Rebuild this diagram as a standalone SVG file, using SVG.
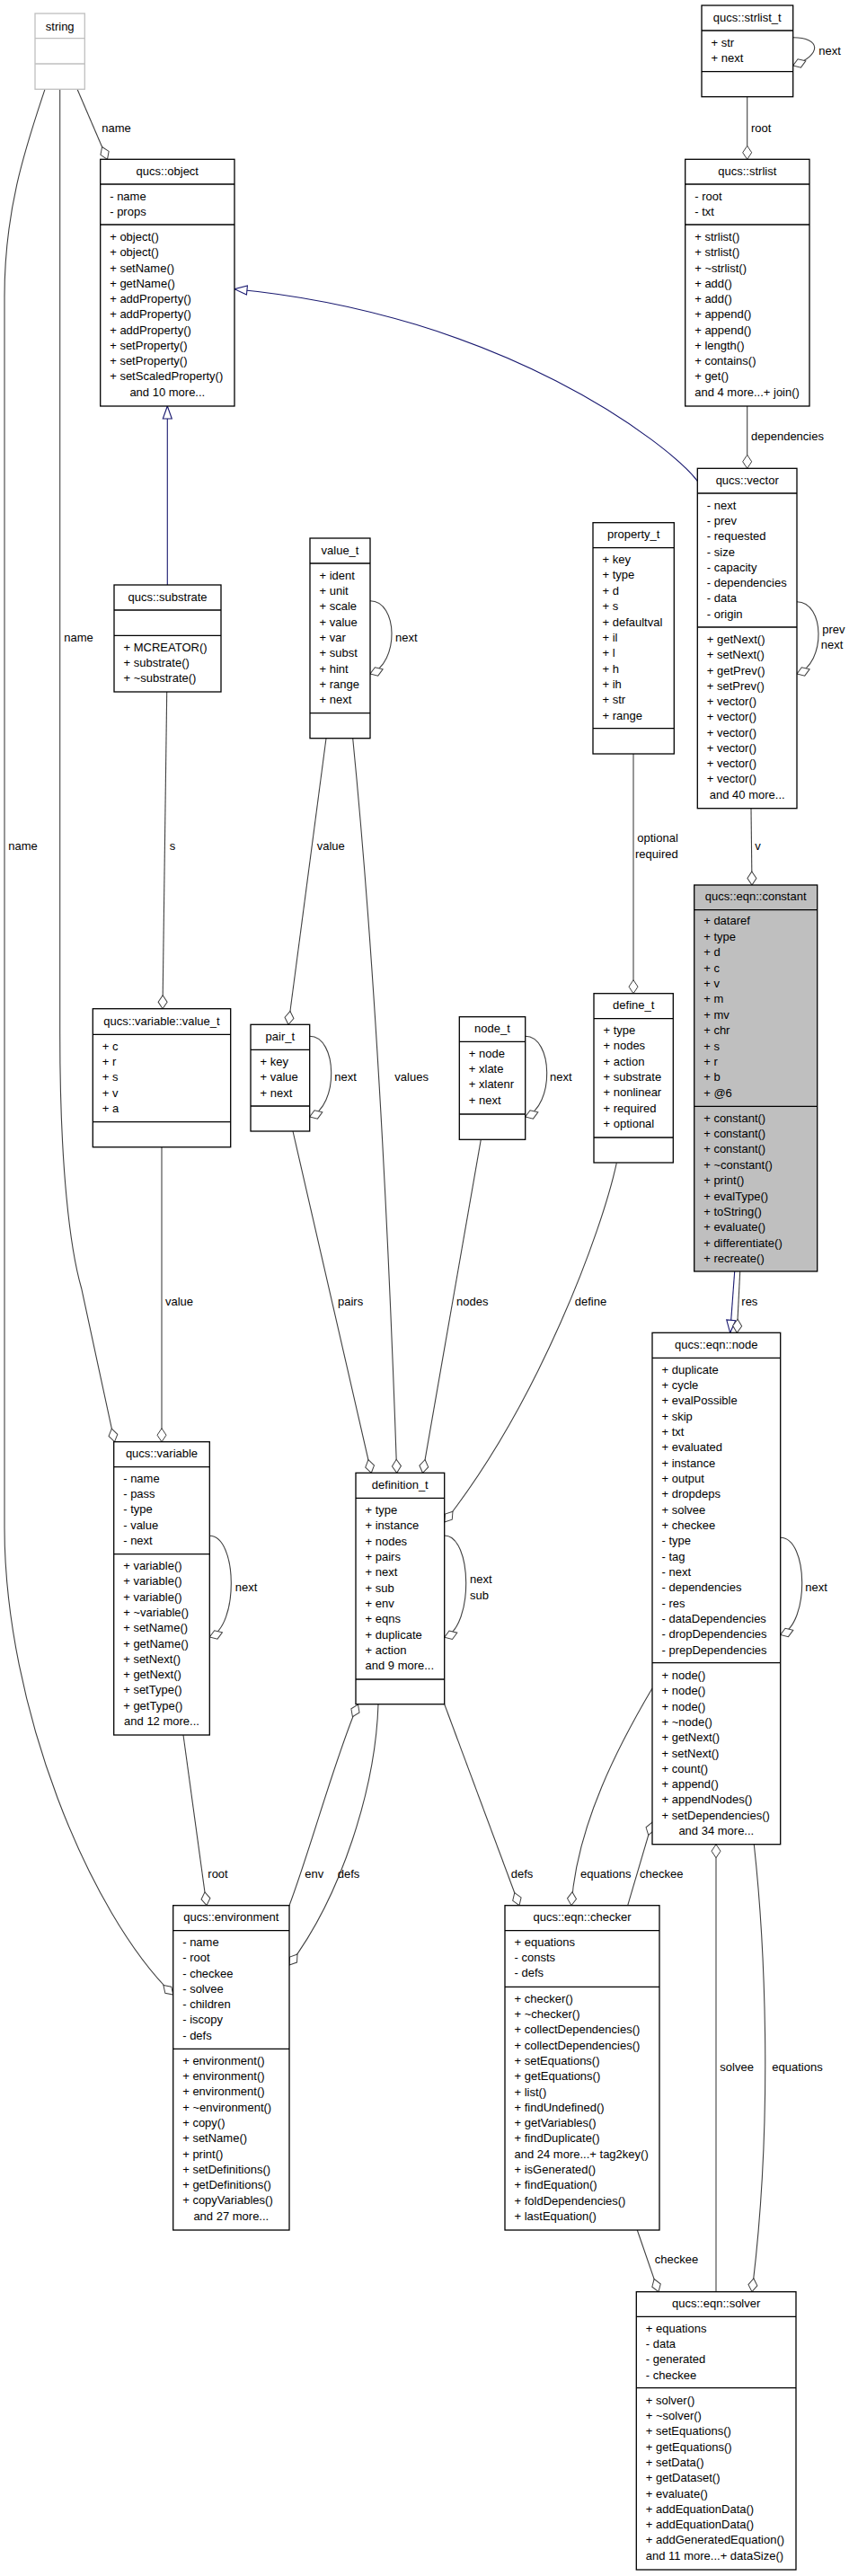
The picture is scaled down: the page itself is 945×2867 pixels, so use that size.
<svg xmlns="http://www.w3.org/2000/svg" width="945" height="2867" viewBox="0 0 945 2867">
<style>
.box{fill:#fff;stroke:#000;stroke-width:1.3}
.grey{fill:#bfbfbf}
.strbox{fill:#fff;stroke:#bfbfbf;stroke-width:1.3}
.sep{stroke:#000;stroke-width:1.3}
.strsep{stroke:#bfbfbf;stroke-width:1.3}
text{font-family:"Liberation Sans",Arial,Helvetica,sans-serif;font-size:13px;fill:#000}
.c{text-anchor:middle}
.agg{fill:none;stroke:#404040;stroke-width:1.1;marker-end:url(#dia)}
.gen{fill:none;stroke:#191970;stroke-width:1.1;marker-end:url(#tri)}
</style>
<defs>
<marker id="dia" markerUnits="userSpaceOnUse" markerWidth="18" markerHeight="12" refX="16" refY="6" orient="auto" overflow="visible"><path d="M1,6 L8.5,1 L16,6 L8.5,11 Z" fill="#fff" stroke="#404040" stroke-width="1"/></marker>
<marker id="tri" markerUnits="userSpaceOnUse" markerWidth="16" markerHeight="12" refX="15" refY="6" orient="auto" overflow="visible"><path d="M1,1 L15,6 L1,11 Z" fill="#fff" stroke="#191970" stroke-width="1.1"/></marker>
</defs>
<rect width="945" height="2867" fill="#fff"/>

<g id="edges">
<path class="agg" d="M86,99.3 L119.5,177.3"/>
<path class="agg" d="M66.7,99.3 L66.7,1150 C66.7,1300 78,1390 90.7,1434 L127.5,1604.7"/>
<path class="agg" d="M50,99.3 C30,160 5,230 5,330 L5,1700 C5,1900 100,2130 192.7,2220"/>
<path class="agg" d="M831.7,107.7 L831.7,177.3"/>
<path class="agg" d="M831.7,452 L831.7,521.3"/>
<path class="gen" d="M776.3,535.3 C745,495 560,350 261,321.7"/>
<path class="gen" d="M186.3,651 L186.3,452"/>
<path class="agg" d="M836,899.7 L837,985"/>
<path class="agg" d="M705,839 L705,1105.7"/>
<path class="agg" d="M185.7,770 L181,1122.7"/>
<path class="agg" d="M363,821.7 L321,1140.3"/>
<path class="agg" d="M392.7,821.7 Q425,1150 441.7,1639.3"/>
<path class="agg" d="M326,1259 L413.3,1639.3"/>
<path class="agg" d="M535.3,1268.3 L470.5,1639.3"/>
<path class="agg" d="M686.3,1294.3 C670,1370 600,1560 494.7,1694"/>
<path class="gen" d="M817.7,1415 L812.7,1483.3"/>
<path class="agg" d="M823.7,1415 L820.3,1483.3"/>
<path class="agg" d="M180,1276.7 L180,1604.7"/>
<path class="agg" d="M204,1931 L230,2120.7"/>
<path class="agg" d="M322,2120.7 C345,2060 375,1950 398.5,1897"/>
<path class="agg" d="M421,1896.7 C418,1990 380,2110 322,2187"/>
<path class="agg" d="M494.7,1896.7 L578,2120.7"/>
<path class="agg" d="M726,1879 C690,1940 642,2030 636,2120.7"/>
<path class="agg" d="M698.7,2120.7 L726,2028"/>
<path class="agg" d="M797,2550.7 L797,2052.7"/>
<path class="agg" d="M839.3,2052.7 C850,2150 862,2350 837,2550.7"/>
<path class="agg" d="M709.3,2482 L733,2550.7"/>
<!-- self loops -->
<path class="agg" d="M882.7,41.7 C913.7,41.7 915.7,61 882.7,73"/>
<path class="agg" d="M412,668.7 C443,668.7 445,738 412,750"/>
<path class="agg" d="M887,669.7 C918,669.7 920,738 887,750"/>
<path class="agg" d="M344.7,1153.3 C375.7,1153.3 377.7,1231 344.7,1243"/>
<path class="agg" d="M584.7,1153.3 C615.7,1153.3 617.7,1231 584.7,1243"/>
<path class="agg" d="M233.3,1709.3 C264.3,1709.3 266.3,1810 233.3,1822"/>
<path class="agg" d="M494.7,1709 C525.7,1709 527.7,1810.3 494.7,1822.3"/>
<path class="agg" d="M868.7,1711.3 C899.7,1711.3 901.7,1807.5 868.7,1819.5"/>
<!-- labels -->
<text x="113.3" y="146.5">name</text>
<text x="911.3" y="61">next</text>
<text x="836" y="146.5">root</text>
<text x="836" y="489.7">dependencies</text>
<text x="71.3" y="714">name</text>
<text x="9.3" y="945.7">name</text>
<text x="188.7" y="945.7">s</text>
<text x="352.7" y="945.7">value</text>
<text x="440" y="714">next</text>
<text x="915.3" y="705">prev</text>
<text x="913.7" y="722.3">next</text>
<text x="709.3" y="937.3">optional</text>
<text x="707" y="955">required</text>
<text x="840.3" y="946.3">v</text>
<text x="372.3" y="1203">next</text>
<text x="439.3" y="1203">values</text>
<text x="612" y="1203">next</text>
<text x="184" y="1453">value</text>
<text x="376" y="1453">pairs</text>
<text x="508" y="1453">nodes</text>
<text x="639.7" y="1453">define</text>
<text x="825.3" y="1453">res</text>
<text x="261.7" y="1771">next</text>
<text x="523" y="1762.3">next</text>
<text x="523" y="1780">sub</text>
<text x="896.3" y="1771">next</text>
<text x="231.3" y="2090.3">root</text>
<text x="339.3" y="2090.3">env</text>
<text x="375.7" y="2090.3">defs</text>
<text x="568.7" y="2090.3">defs</text>
<text x="646" y="2090.3">equations</text>
<text x="712" y="2090.3">checkee</text>
<text x="801.3" y="2304.6">solvee</text>
<text x="859.3" y="2304.6">equations</text>
<text x="728.7" y="2518.6">checkee</text>
</g>

<g id="string">
<rect class="strbox" x="39" y="15" width="55.3" height="84.3"/>
<line class="strsep" x1="39" y1="42.7" x2="94.3" y2="42.7"/>
<line class="strsep" x1="39" y1="71" x2="94.3" y2="71"/>
<text class="c" x="66.7" y="33.5">string</text>
</g>

<g id="object">
<rect class="box" x="111.7" y="177.3" width="149.3" height="274.7"/>
<line class="sep" x1="111.7" y1="205" x2="261" y2="205"/>
<line class="sep" x1="111.7" y1="250" x2="261" y2="250"/>
<text class="c" x="186.3" y="195">qucs::object</text>
<text x="122.2" y="223">- name</text>
<text x="122.2" y="240.3">- props</text>
<text x="122.2" y="268">+ object()</text>
<text x="122.2" y="285.3">+ object()</text>
<text x="122.2" y="302.5">+ setName()</text>
<text x="122.2" y="319.8">+ getName()</text>
<text x="122.2" y="337.1">+ addProperty()</text>
<text x="122.2" y="354.4">+ addProperty()</text>
<text x="122.2" y="371.6">+ addProperty()</text>
<text x="122.2" y="388.9">+ setProperty()</text>
<text x="122.2" y="406.2">+ setProperty()</text>
<text x="122.2" y="423.4">+ setScaledProperty()</text>
<text class="c" x="186.3" y="440.7">and 10 more...</text>
</g>

<g id="strlist_t">
<rect class="box" x="781" y="6" width="101.7" height="101.7"/>
<line class="sep" x1="781" y1="34" x2="882.7" y2="34"/>
<line class="sep" x1="781" y1="79.7" x2="882.7" y2="79.7"/>
<text class="c" x="831.8" y="24">qucs::strlist_t</text>
<text x="791.5" y="51.5">+ str</text>
<text x="791.5" y="68.8">+ next</text>
</g>

<g id="strlist">
<rect class="box" x="762.7" y="177.3" width="138.3" height="274.7"/>
<line class="sep" x1="762.7" y1="205" x2="901" y2="205"/>
<line class="sep" x1="762.7" y1="250" x2="901" y2="250"/>
<text class="c" x="831.8" y="195">qucs::strlist</text>
<text x="773.2" y="223">- root</text>
<text x="773.2" y="240.3">- txt</text>
<text x="773.2" y="268">+ strlist()</text>
<text x="773.2" y="285.3">+ strlist()</text>
<text x="773.2" y="302.5">+ ~strlist()</text>
<text x="773.2" y="319.8">+ add()</text>
<text x="773.2" y="337.1">+ add()</text>
<text x="773.2" y="354.4">+ append()</text>
<text x="773.2" y="371.6">+ append()</text>
<text x="773.2" y="388.9">+ length()</text>
<text x="773.2" y="406.2">+ contains()</text>
<text x="773.2" y="423.4">+ get()</text>
<text x="773.2" y="440.7">and 4 more...+ join()</text>
</g>

<g id="vector">
<rect class="box" x="776.3" y="521.3" width="110.7" height="378.4"/>
<line class="sep" x1="776.3" y1="549" x2="887" y2="549"/>
<line class="sep" x1="776.3" y1="698" x2="887" y2="698"/>
<text class="c" x="831.7" y="538.7">qucs::vector</text>
<text x="786.8" y="566.7">- next</text>
<text x="786.8" y="584">- prev</text>
<text x="786.8" y="601.2">- requested</text>
<text x="786.8" y="618.5">- size</text>
<text x="786.8" y="635.8">- capacity</text>
<text x="786.8" y="653">- dependencies</text>
<text x="786.8" y="670.3">- data</text>
<text x="786.8" y="687.6">- origin</text>
<text x="786.8" y="716">+ getNext()</text>
<text x="786.8" y="733.3">+ setNext()</text>
<text x="786.8" y="750.5">+ getPrev()</text>
<text x="786.8" y="767.8">+ setPrev()</text>
<text x="786.8" y="785.1">+ vector()</text>
<text x="786.8" y="802.4">+ vector()</text>
<text x="786.8" y="819.6">+ vector()</text>
<text x="786.8" y="836.9">+ vector()</text>
<text x="786.8" y="854.2">+ vector()</text>
<text x="786.8" y="871.4">+ vector()</text>
<text class="c" x="831.7" y="888.7">and 40 more...</text>
</g>

<g id="property_t">
<rect class="box" x="660" y="581.7" width="90.3" height="257.3"/>
<line class="sep" x1="660" y1="609.7" x2="750.3" y2="609.7"/>
<line class="sep" x1="660" y1="810.7" x2="750.3" y2="810.7"/>
<text class="c" x="705.2" y="599.3">property_t</text>
<text x="670.5" y="627">+ key</text>
<text x="670.5" y="644.4">+ type</text>
<text x="670.5" y="661.8">+ d</text>
<text x="670.5" y="679.1">+ s</text>
<text x="670.5" y="696.5">+ defaultval</text>
<text x="670.5" y="713.9">+ il</text>
<text x="670.5" y="731.3">+ l</text>
<text x="670.5" y="748.7">+ h</text>
<text x="670.5" y="766">+ ih</text>
<text x="670.5" y="783.4">+ str</text>
<text x="670.5" y="800.8">+ range</text>
</g>

<g id="substrate">
<rect class="box" x="127" y="651" width="119" height="119"/>
<line class="sep" x1="127" y1="679" x2="246" y2="679"/>
<line class="sep" x1="127" y1="707.3" x2="246" y2="707.3"/>
<text class="c" x="186.5" y="668.7">qucs::substrate</text>
<text x="137.5" y="724.7">+ MCREATOR()</text>
<text x="137.5" y="742">+ substrate()</text>
<text x="137.5" y="759.3">+ ~substrate()</text>
</g>

<g id="value_t">
<rect class="box" x="345" y="599" width="67" height="222.7"/>
<line class="sep" x1="345" y1="627" x2="412" y2="627"/>
<line class="sep" x1="345" y1="793.7" x2="412" y2="793.7"/>
<text class="c" x="378.5" y="617">value_t</text>
<text x="355.5" y="644.7">+ ident</text>
<text x="355.5" y="662">+ unit</text>
<text x="355.5" y="679.3">+ scale</text>
<text x="355.5" y="696.6">+ value</text>
<text x="355.5" y="713.9">+ var</text>
<text x="355.5" y="731.2">+ subst</text>
<text x="355.5" y="748.5">+ hint</text>
<text x="355.5" y="765.8">+ range</text>
<text x="355.5" y="783.1">+ next</text>
</g>

<g id="variable_value_t">
<rect class="box" x="103.3" y="1122.7" width="153.4" height="154"/>
<line class="sep" x1="103.3" y1="1151.3" x2="256.7" y2="1151.3"/>
<line class="sep" x1="103.3" y1="1248.7" x2="256.7" y2="1248.7"/>
<text class="c" x="180" y="1141">qucs::variable::value_t</text>
<text x="113.8" y="1169">+ c</text>
<text x="113.8" y="1186.2">+ r</text>
<text x="113.8" y="1203.4">+ s</text>
<text x="113.8" y="1220.6">+ v</text>
<text x="113.8" y="1237.8">+ a</text>
</g>

<g id="pair_t">
<rect class="box" x="279" y="1140.3" width="65.7" height="118.7"/>
<line class="sep" x1="279" y1="1168.3" x2="344.7" y2="1168.3"/>
<line class="sep" x1="279" y1="1231" x2="344.7" y2="1231"/>
<text class="c" x="311.8" y="1157.7">pair_t</text>
<text x="289.5" y="1186">+ key</text>
<text x="289.5" y="1203.3">+ value</text>
<text x="289.5" y="1220.6">+ next</text>
</g>

<g id="node_t">
<rect class="box" x="511.3" y="1131.7" width="73.4" height="136.6"/>
<line class="sep" x1="511.3" y1="1159.3" x2="584.7" y2="1159.3"/>
<line class="sep" x1="511.3" y1="1240" x2="584.7" y2="1240"/>
<text class="c" x="548" y="1149">node_t</text>
<text x="521.8" y="1176.7">+ node</text>
<text x="521.8" y="1194">+ xlate</text>
<text x="521.8" y="1211.3">+ xlatenr</text>
<text x="521.8" y="1228.6">+ next</text>
</g>

<g id="define_t">
<rect class="box" x="661" y="1105.7" width="88.3" height="188.3"/>
<line class="sep" x1="661" y1="1133.7" x2="749.3" y2="1133.7"/>
<line class="sep" x1="661" y1="1266" x2="749.3" y2="1266"/>
<text class="c" x="705.2" y="1123">define_t</text>
<text x="671.5" y="1151">+ type</text>
<text x="671.5" y="1168.3">+ nodes</text>
<text x="671.5" y="1185.6">+ action</text>
<text x="671.5" y="1202.9">+ substrate</text>
<text x="671.5" y="1220.2">+ nonlinear</text>
<text x="671.5" y="1237.5">+ required</text>
<text x="671.5" y="1254.8">+ optional</text>
</g>

<g id="constant">
<rect class="box grey" x="772.7" y="985" width="137" height="430"/>
<line class="sep" x1="772.7" y1="1012.7" x2="909.7" y2="1012.7"/>
<line class="sep" x1="772.7" y1="1231.3" x2="909.7" y2="1231.3"/>
<text class="c" x="841.2" y="1001.7">qucs::eqn::constant</text>
<text x="783.2" y="1029.3">+ dataref</text>
<text x="783.2" y="1046.7">+ type</text>
<text x="783.2" y="1064.1">+ d</text>
<text x="783.2" y="1081.5">+ c</text>
<text x="783.2" y="1098.9">+ v</text>
<text x="783.2" y="1116.3">+ m</text>
<text x="783.2" y="1133.7">+ mv</text>
<text x="783.2" y="1151.1">+ chr</text>
<text x="783.2" y="1168.5">+ s</text>
<text x="783.2" y="1185.9">+ r</text>
<text x="783.2" y="1203.3">+ b</text>
<text x="783.2" y="1220.7">+ @6</text>
<text x="783.2" y="1248.7">+ constant()</text>
<text x="783.2" y="1266.1">+ constant()</text>
<text x="783.2" y="1283.4">+ constant()</text>
<text x="783.2" y="1300.8">+ ~constant()</text>
<text x="783.2" y="1318.2">+ print()</text>
<text x="783.2" y="1335.6">+ evalType()</text>
<text x="783.2" y="1352.9">+ toString()</text>
<text x="783.2" y="1370.3">+ evaluate()</text>
<text x="783.2" y="1387.7">+ differentiate()</text>
<text x="783.2" y="1405">+ recreate()</text>
</g>

<g id="definition_t">
<rect class="box" x="396" y="1639.3" width="98.7" height="257.4"/>
<line class="sep" x1="396" y1="1667.3" x2="494.7" y2="1667.3"/>
<line class="sep" x1="396" y1="1869" x2="494.7" y2="1869"/>
<text class="c" x="445.3" y="1657">definition_t</text>
<text x="406.5" y="1685">+ type</text>
<text x="406.5" y="1702.3">+ instance</text>
<text x="406.5" y="1719.7">+ nodes</text>
<text x="406.5" y="1737">+ pairs</text>
<text x="406.5" y="1754.3">+ next</text>
<text x="406.5" y="1771.7">+ sub</text>
<text x="406.5" y="1789">+ env</text>
<text x="406.5" y="1806.3">+ eqns</text>
<text x="406.5" y="1823.6">+ duplicate</text>
<text x="406.5" y="1841">+ action</text>
<text x="406.5" y="1858.3">and 9 more...</text>
</g>

<g id="node">
<rect class="box" x="726" y="1483.3" width="142.7" height="569.4"/>
<line class="sep" x1="726" y1="1511.3" x2="868.7" y2="1511.3"/>
<line class="sep" x1="726" y1="1850.7" x2="868.7" y2="1850.7"/>
<text class="c" x="797.3" y="1500.7">qucs::eqn::node</text>
<text x="736.5" y="1528.7">+ duplicate</text>
<text x="736.5" y="1546">+ cycle</text>
<text x="736.5" y="1563.4">+ evalPossible</text>
<text x="736.5" y="1580.7">+ skip</text>
<text x="736.5" y="1598">+ txt</text>
<text x="736.5" y="1615.4">+ evaluated</text>
<text x="736.5" y="1632.7">+ instance</text>
<text x="736.5" y="1650">+ output</text>
<text x="736.5" y="1667.3">+ dropdeps</text>
<text x="736.5" y="1684.7">+ solvee</text>
<text x="736.5" y="1702">+ checkee</text>
<text x="736.5" y="1719.3">- type</text>
<text x="736.5" y="1736.7">- tag</text>
<text x="736.5" y="1754">- next</text>
<text x="736.5" y="1771.3">- dependencies</text>
<text x="736.5" y="1788.7">- res</text>
<text x="736.5" y="1806">- dataDependencies</text>
<text x="736.5" y="1823.3">- dropDependencies</text>
<text x="736.5" y="1840.6">- prepDependencies</text>
<text x="736.5" y="1869">+ node()</text>
<text x="736.5" y="1886.3">+ node()</text>
<text x="736.5" y="1903.6">+ node()</text>
<text x="736.5" y="1920.9">+ ~node()</text>
<text x="736.5" y="1938.2">+ getNext()</text>
<text x="736.5" y="1955.5">+ setNext()</text>
<text x="736.5" y="1972.8">+ count()</text>
<text x="736.5" y="1990.1">+ append()</text>
<text x="736.5" y="2007.4">+ appendNodes()</text>
<text x="736.5" y="2024.7">+ setDependencies()</text>
<text class="c" x="797.3" y="2042">and 34 more...</text>
</g>

<g id="variable">
<rect class="box" x="126.7" y="1604.7" width="106.6" height="326.3"/>
<line class="sep" x1="126.7" y1="1632.7" x2="233.3" y2="1632.7"/>
<line class="sep" x1="126.7" y1="1729.7" x2="233.3" y2="1729.7"/>
<text class="c" x="180" y="1621.7">qucs::variable</text>
<text x="137.2" y="1649.7">- name</text>
<text x="137.2" y="1667">- pass</text>
<text x="137.2" y="1684.2">- type</text>
<text x="137.2" y="1701.5">- value</text>
<text x="137.2" y="1718.7">- next</text>
<text x="137.2" y="1747">+ variable()</text>
<text x="137.2" y="1764.3">+ variable()</text>
<text x="137.2" y="1781.6">+ variable()</text>
<text x="137.2" y="1798.9">+ ~variable()</text>
<text x="137.2" y="1816.2">+ setName()</text>
<text x="137.2" y="1833.5">+ getName()</text>
<text x="137.2" y="1850.8">+ setNext()</text>
<text x="137.2" y="1868.1">+ getNext()</text>
<text x="137.2" y="1885.4">+ setType()</text>
<text x="137.2" y="1902.7">+ getType()</text>
<text class="c" x="180" y="1920">and 12 more...</text>
</g>

<g id="environment">
<rect class="box" x="192.7" y="2120.7" width="129.3" height="361.3"/>
<line class="sep" x1="192.7" y1="2148.7" x2="322" y2="2148.7"/>
<line class="sep" x1="192.7" y1="2280.3" x2="322" y2="2280.3"/>
<text class="c" x="257.3" y="2137.7">qucs::environment</text>
<text x="203.2" y="2166">- name</text>
<text x="203.2" y="2183.3">- root</text>
<text x="203.2" y="2200.5">- checkee</text>
<text x="203.2" y="2217.8">- solvee</text>
<text x="203.2" y="2235">- children</text>
<text x="203.2" y="2252.3">- iscopy</text>
<text x="203.2" y="2269.5">- defs</text>
<text x="203.2" y="2297.7">+ environment()</text>
<text x="203.2" y="2315">+ environment()</text>
<text x="203.2" y="2332.3">+ environment()</text>
<text x="203.2" y="2349.6">+ ~environment()</text>
<text x="203.2" y="2366.9">+ copy()</text>
<text x="203.2" y="2384.2">+ setName()</text>
<text x="203.2" y="2401.5">+ print()</text>
<text x="203.2" y="2418.8">+ setDefinitions()</text>
<text x="203.2" y="2436.1">+ getDefinitions()</text>
<text x="203.2" y="2453.4">+ copyVariables()</text>
<text class="c" x="257.3" y="2470.7">and 27 more...</text>
</g>

<g id="checker">
<rect class="box" x="562" y="2120.7" width="172" height="361.3"/>
<line class="sep" x1="562" y1="2148.7" x2="734" y2="2148.7"/>
<line class="sep" x1="562" y1="2211.3" x2="734" y2="2211.3"/>
<text class="c" x="648" y="2137.7">qucs::eqn::checker</text>
<text x="572.5" y="2165.7">+ equations</text>
<text x="572.5" y="2183">- consts</text>
<text x="572.5" y="2200.3">- defs</text>
<text x="572.5" y="2228.7">+ checker()</text>
<text x="572.5" y="2246">+ ~checker()</text>
<text x="572.5" y="2263.3">+ collectDependencies()</text>
<text x="572.5" y="2280.6">+ collectDependencies()</text>
<text x="572.5" y="2297.9">+ setEquations()</text>
<text x="572.5" y="2315.2">+ getEquations()</text>
<text x="572.5" y="2332.5">+ list()</text>
<text x="572.5" y="2349.8">+ findUndefined()</text>
<text x="572.5" y="2367.1">+ getVariables()</text>
<text x="572.5" y="2384.4">+ findDuplicate()</text>
<text x="572.5" y="2401.7">and 24 more...+ tag2key()</text>
<text x="572.5" y="2419">+ isGenerated()</text>
<text x="572.5" y="2436.3">+ findEquation()</text>
<text x="572.5" y="2453.6">+ foldDependencies()</text>
<text x="572.5" y="2470.9">+ lastEquation()</text>
</g>

<g id="solver">
<rect class="box" x="708.3" y="2550.7" width="177.7" height="309.3"/>
<line class="sep" x1="708.3" y1="2578.3" x2="886" y2="2578.3"/>
<line class="sep" x1="708.3" y1="2657.7" x2="886" y2="2657.7"/>
<text class="c" x="797.2" y="2567.7">qucs::eqn::solver</text>
<text x="718.8" y="2595.7">+ equations</text>
<text x="718.8" y="2613">- data</text>
<text x="718.8" y="2630.3">- generated</text>
<text x="718.8" y="2647.6">- checkee</text>
<text x="718.8" y="2675.7">+ solver()</text>
<text x="718.8" y="2693">+ ~solver()</text>
<text x="718.8" y="2710.3">+ setEquations()</text>
<text x="718.8" y="2727.6">+ getEquations()</text>
<text x="718.8" y="2744.9">+ setData()</text>
<text x="718.8" y="2762.2">+ getDataset()</text>
<text x="718.8" y="2779.5">+ evaluate()</text>
<text x="718.8" y="2796.8">+ addEquationData()</text>
<text x="718.8" y="2814.1">+ addEquationData()</text>
<text x="718.8" y="2831.4">+ addGeneratedEquation()</text>
<text x="718.8" y="2848.7">and 11 more...+ dataSize()</text>
</g>
</svg>
